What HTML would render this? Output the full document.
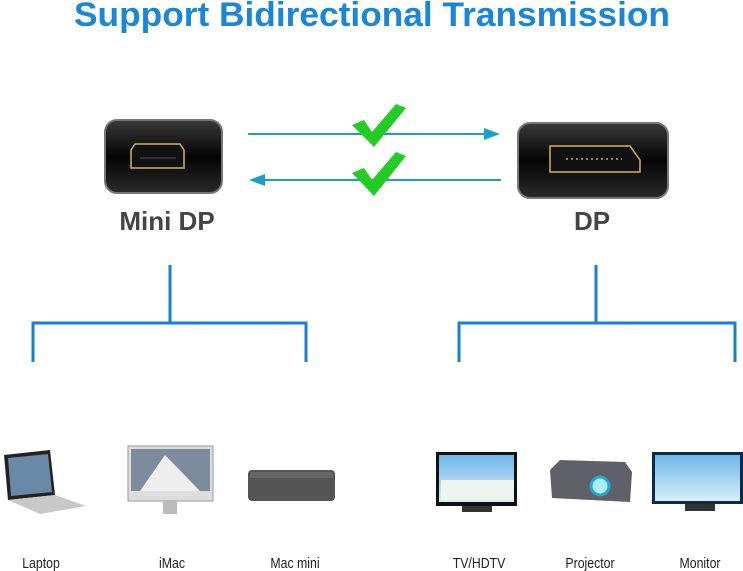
<!DOCTYPE html><html><head><style>body{margin:0;background:#fff}svg{display:block}</style></head><body>
<svg width="743" height="571" viewBox="0 0 743 571" xmlns="http://www.w3.org/2000/svg">
<defs>
<linearGradient id="bx" x1="0" y1="0" x2="0" y2="1"><stop offset="0" stop-color="#3a3a3a"/><stop offset=".5" stop-color="#050505"/><stop offset="1" stop-color="#2a2a2a"/></linearGradient>
<linearGradient id="sky" x1="0" y1="0" x2="0" y2="1"><stop offset="0" stop-color="#6fb6e8"/><stop offset="1" stop-color="#d8eef8"/></linearGradient>
</defs>
<text x="372" y="26" text-anchor="middle" font-family="Liberation Sans, sans-serif" font-weight="bold" font-size="34" fill="#1a86d8" textLength="596" lengthAdjust="spacingAndGlyphs">Support Bidirectional Transmission</text>
<rect x="105" y="120" width="117" height="73" rx="12" fill="url(#bx)" stroke="#777" stroke-width="2"/>
<path d="M131 150 L135 144 L180 144 L184 150 L184 168 L131 168 Z" fill="#111" stroke="#d8b060" stroke-width="1.5"/>
<line x1="140" y1="158" x2="176" y2="158" stroke="#333" stroke-width="2"/>
<rect x="518" y="123" width="150" height="75" rx="12" fill="url(#bx)" stroke="#777" stroke-width="2"/>
<path d="M550 146 L630 146 L640 160 L640 172 L550 172 Z" fill="#111" stroke="#d8b060" stroke-width="1.5"/>
<line x1="566" y1="159" x2="622" y2="159" stroke="#aaa" stroke-width="1.5" stroke-dasharray="2 3"/>
<line x1="248" y1="134" x2="488" y2="134" stroke="#1aa0c8" stroke-width="2"/>
<polygon points="500,134 484,128 484,140" fill="#1aa0c8"/>
<line x1="262" y1="180" x2="501" y2="180" stroke="#1aa0c8" stroke-width="2"/>
<polygon points="249,180 265,174 265,186" fill="#1aa0c8"/>
<path d="M352 125 L364 120 L372 132 L396 104 L406 108 L374 147 Z" fill="#22cc22"/>
<path d="M352 173 L364 168 L372 180 L396 152 L406 156 L374 196 Z" fill="#22cc22"/>
<text x="167" y="230" text-anchor="middle" font-family="Liberation Sans, sans-serif" font-weight="bold" font-size="26" fill="#444">Mini DP</text>
<text x="592" y="230" text-anchor="middle" font-family="Liberation Sans, sans-serif" font-weight="bold" font-size="26" fill="#444">DP</text>
<g stroke="#1a7fd0" stroke-width="3" fill="none">
<path d="M170 265 V323 M33 362 V323 H306 V362"/>
<path d="M596 265 V323 M459 362 V323 H735 V362"/>
</g>
<path d="M4 455 L50 450 L55 495 L8 500 Z" fill="#222"/><path d="M8 458 L48 454 L52 492 L11 496 Z" fill="#6a88a8"/>
<path d="M8 500 L55 495 L86 506 L40 514 Z" fill="#c8c8c8"/>
<rect x="128" y="446" width="85" height="55" fill="#ddd" stroke="#999"/><rect x="131" y="449" width="79" height="42" fill="#7c8c9c"/><path d="M140 491 L165 455 L200 491 Z" fill="#eee"/>
<rect x="163" y="501" width="14" height="13" fill="#bbb"/>
<rect x="248" y="470" width="87" height="31" rx="4" fill="#555"/><rect x="250" y="472" width="83" height="6" fill="#666"/>
<rect x="436" y="452" width="81" height="54" fill="#111"/><rect x="439" y="455" width="75" height="47" fill="url(#sky)"/><rect x="441" y="480" width="73" height="20" fill="#eef4f0"/><rect x="462" y="506" width="30" height="6" fill="#333"/>
<path d="M550 470 L560 460 L625 462 L632 472 L630 502 L552 498 Z" fill="#606068"/><circle cx="600" cy="486" r="9" fill="#aef" stroke="#2ac" stroke-width="3"/>
<rect x="652" y="452" width="91" height="52" fill="#0a2b4c"/><rect x="655" y="455" width="85" height="46" fill="url(#sky)"/><rect x="685" y="504" width="30" height="7" fill="#333"/>
<g font-family="Liberation Sans, sans-serif" font-size="15" fill="#222" text-anchor="middle">
<text transform="translate(41 568) scale(0.82 1)">Laptop</text><text transform="translate(172 568) scale(0.82 1)">iMac</text><text transform="translate(295 568) scale(0.82 1)">Mac mini</text>
<text transform="translate(479 568) scale(0.82 1)">TV/HDTV</text><text transform="translate(590 568) scale(0.82 1)">Projector</text><text transform="translate(700 568) scale(0.82 1)">Monitor</text>
</g>
</svg>
</body></html>
